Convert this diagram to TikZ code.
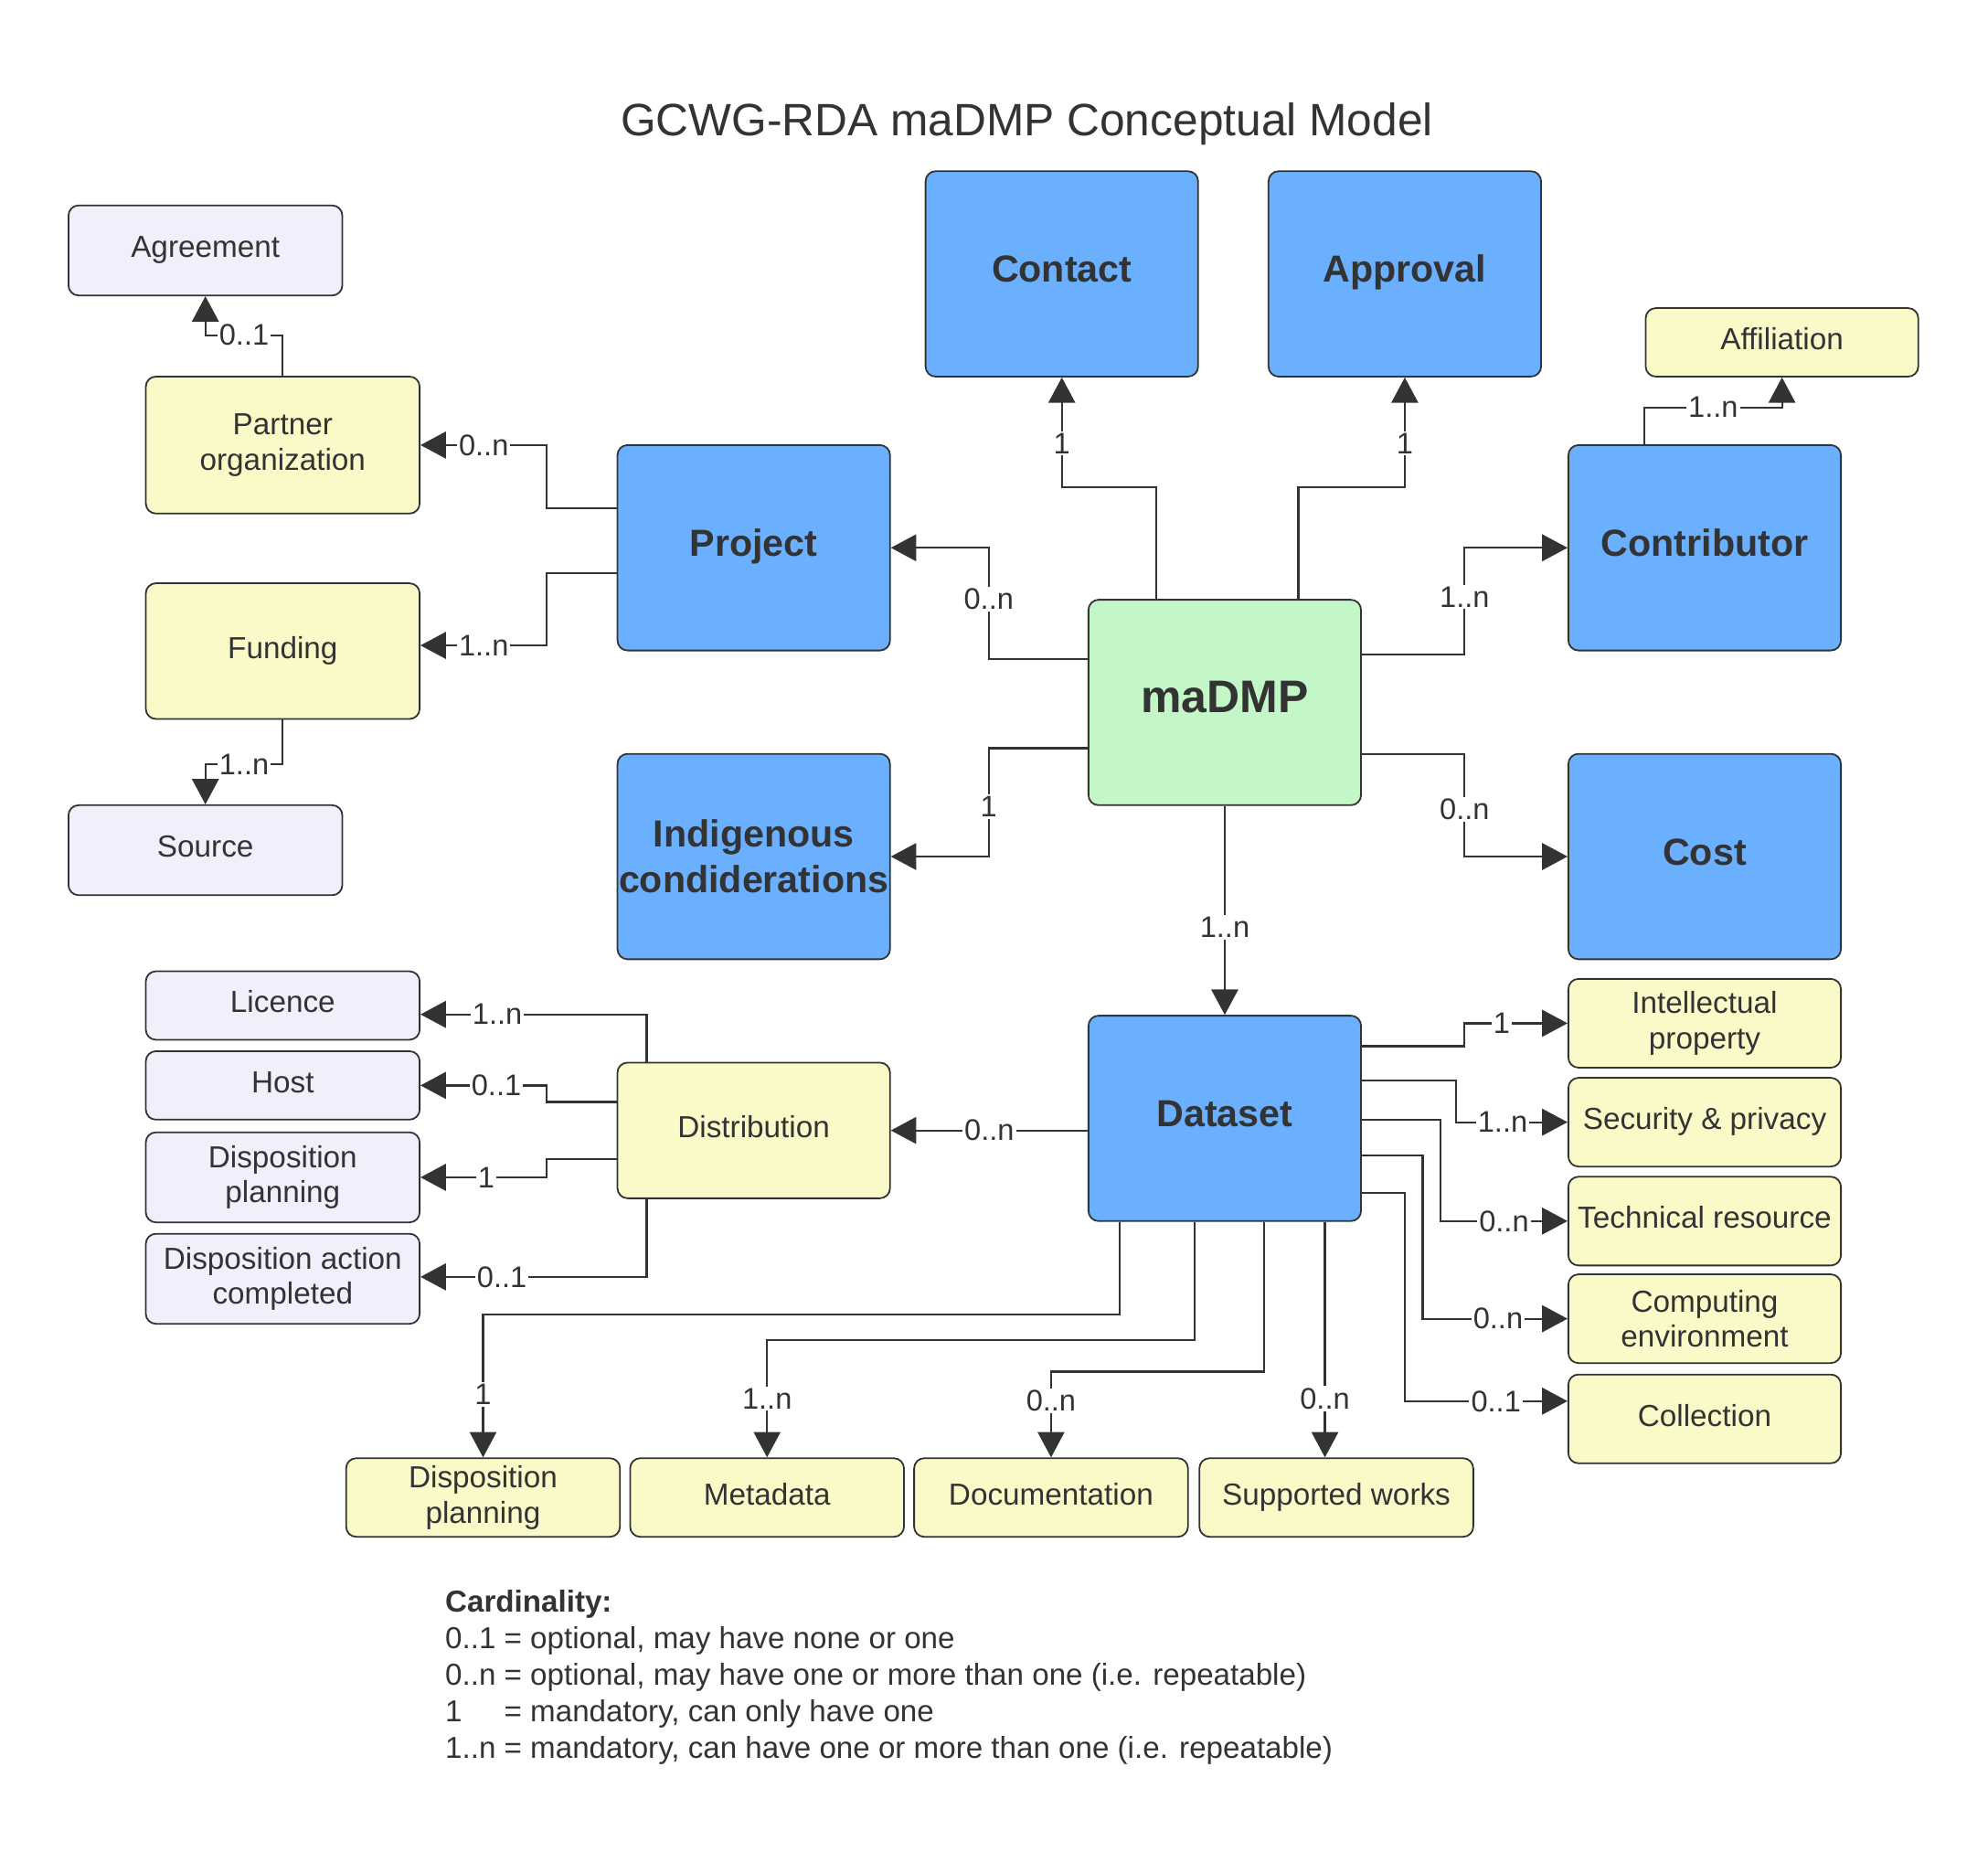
\documentclass[tikz,border=0pt]{standalone}
\usepackage{fontspec}
\setmainfont{Liberation Sans}
\usetikzlibrary{arrows.meta,calc}
\definecolor{ink}{HTML}{333333}
\definecolor{bluebox}{HTML}{6BAFFF}
\definecolor{yellowbox}{HTML}{FAFAC8}
\definecolor{lavbox}{HTML}{F0F0FC}
\definecolor{greenbox}{HTML}{C3F7C8}
\begin{document}
\begin{tikzpicture}[x=1pt,y=-1pt,
  box/.style={draw=ink, line width=1.3pt, rounded corners=8pt, text=ink, align=center, inner sep=0pt,
    minimum width=216pt, font=\fontsize{24}{28}\selectfont},
  oneline/.style={text height=17.3pt, text depth=6pt},
  bigbox/.style={box, fill=bluebox, minimum width=215pt, minimum height=162pt, font=\fontsize{29.7}{36}\selectfont\bfseries},
  bigone/.style={text height=21.4pt, text depth=8pt},
  ybox/.style={box, fill=yellowbox},
  lbox/.style={box, fill=lavbox},
  conn/.style={draw=ink, line width=1.6pt, -{Triangle[length=20pt,width=21pt]}},
  card/.style={fill=white, text=ink, inner sep=1.5pt, font=\fontsize{23.5}{25}\selectfont},
  legend/.style={anchor=base west, inner sep=0pt, text=ink, font=\fontsize{23.9}{29}\selectfont},
]
\useasboundingbox[fill=white] (0,0) rectangle (1568,1459.9);

% title
\node[anchor=base, inner sep=0pt, text=ink, font=\fontsize{35.8}{40}\selectfont] (title) at (810,107) {GCWG-RDA maDMP Conceptual Model};

% left column
\node[lbox, oneline, minimum height=71pt] (agreement) at (162,197.5) {Agreement};
\node[ybox, minimum height=108pt] (partner) at (223,351) {Partner\\organization};
\node[ybox, oneline, minimum height=107pt] (funding) at (223,513.5) {Funding};
\node[lbox, oneline, minimum height=71pt] (source) at (162,670.5) {Source};

% big boxes
\node[bigbox, bigone] (project) at (594.5,432) {Project};
\node[bigbox, bigone] (contact) at (837.5,216) {Contact};
\node[bigbox, bigone] (approval) at (1108,216) {Approval};
\node[bigbox, bigone] (contributor) at (1344.5,432) {Contributor};
\node[bigbox, fill=greenbox, font=\fontsize{36}{40}\selectfont\bfseries, text height=25.8pt, text depth=10pt] (madmp) at (966,554) {maDMP};
\node[bigbox] (indigenous) at (594.5,675.5) {Indigenous\\condiderations};
\node[bigbox, bigone] (cost) at (1344.5,675.5) {Cost};
\node[bigbox, bigone] (dataset) at (966,882) {Dataset};
\node[ybox, oneline, minimum width=215pt, minimum height=54pt] (affiliation) at (1405.5,270) {Affiliation};

% distribution group
\node[lbox, oneline, minimum height=54pt] (licence) at (223,793) {Licence};
\node[lbox, oneline, minimum height=54pt] (host) at (223,856) {Host};
\node[lbox, minimum height=71pt] (displan) at (223,928.5) {Disposition\\planning};
\node[lbox, minimum height=71pt] (dispact) at (223,1008.5) {Disposition action\\completed};
\node[ybox, oneline, minimum width=215pt, minimum height=107pt] (distribution) at (594.5,891.5) {Distribution};

% right column
\node[ybox, minimum width=215pt, minimum height=70pt] (intellectual) at (1344.5,807) {Intellectual\\property};
\node[ybox, oneline, minimum width=215pt, minimum height=70pt] (security) at (1344.5,885) {Security \& privacy};
\node[ybox, oneline, minimum width=215pt, minimum height=70pt] (technical) at (1344.5,963) {Technical resource};
\node[ybox, minimum width=215pt, minimum height=70pt] (computing) at (1344.5,1040) {Computing\\environment};
\node[ybox, oneline, minimum width=215pt, minimum height=70pt] (collection) at (1344.5,1119) {Collection};

% bottom row
\node[ybox, minimum height=62pt] (dispbottom) at (381,1181) {Disposition\\planning};
\node[ybox, oneline, minimum height=62pt] (metadata) at (605,1181) {Metadata};
\node[ybox, oneline, minimum height=62pt] (documentation) at (829,1181) {Documentation};
\node[ybox, oneline, minimum height=62pt] (supported) at (1054,1181) {Supported works};

% connectors: left
\draw[conn] (partner.north) -- ++(0,-32) -| (agreement.south) node[card, pos=0.25] {0..1};
\draw[conn] ($(project.west)+(0,-31)$) -- ++(-55,0) |- (partner.east) node[card, pos=0.75] {0..n};
\draw[conn] ($(project.west)+(0,20)$) -- ++(-55,0) |- ($(funding.east)+(0,-4.5)$) node[card, pos=0.75] {1..n};
\draw[conn] (funding.south) -- ++(0,35) -| (source.north) node[card, pos=0.25] {1..n};

% connectors: maDMP
\draw[conn] ($(madmp.west)+(0,-34)$) -- ++(-78,0) |- (project.east) node[card, pos=0.27] {0..n};
\draw[conn] ($(madmp.north)+(-54,0)$) -- ++(0,-88) -| (contact.south) node[card, pos=0.7] {1};
\draw[conn] ($(madmp.north)+(58,0)$) -- ++(0,-88) -| (approval.south) node[card, pos=0.7] {1};
\draw[conn] ($(madmp.east)+(0,-38)$) -- ++(81,0) |- (contributor.west) node[card, pos=0.27] {1..n};
\draw[conn] ($(contributor.north)+(-47.5,0)$) -- ++(0,-29) -| (affiliation.south) node[card, pos=0.25] {1..n};
\draw[conn] ($(madmp.west)+(0,36)$) -- ++(-78,0) |- (indigenous.east) node[card, pos=0.27] {1};
\draw[conn] ($(madmp.east)+(0,41)$) -- ++(81,0) |- (cost.west) node[card, pos=0.27] {0..n};
\draw[conn] (madmp.south) -- (dataset.north) node[card, pos=0.58] {1..n};

% connectors: dataset / distribution
\draw[conn] (distribution.east -| dataset.west) -- (distribution.east) node[card, midway] {0..n};
\draw[conn] ($(distribution.north)+(-84.5,0)$) |- ($(licence.east)+(0,7)$) node[card, pos=0.83] {1..n};
\draw[conn] ($(distribution.west)+(0,-22.5)$) -- ++(-55,0) |- (host.east) node[card, pos=0.7] {0..1};
\draw[conn] ($(distribution.west)+(0,22.5)$) -- ++(-55,0) |- (displan.east) node[card, pos=0.74] {1};
\draw[conn] ($(distribution.south)+(-84.5,0)$) |- ($(dispact.east)+(0,-1.5)$) node[card, pos=0.82] {0..1};

\draw[conn] ($(dataset.east)+(0,-57)$) -- ++(81,0) |- (intellectual.west) node[card, pos=0.68] {1};
\draw[conn] ($(dataset.east)+(0,-30)$) -- ++(74,0) |- (security.west) node[card, pos=0.71] {1..n};
\draw[conn] ($(dataset.east)+(0,1)$) -- ++(62,0) |- (technical.west) node[card, pos=0.75] {0..n};
\draw[conn] ($(dataset.east)+(0,29)$) -- ++(48,0) |- (computing.west) node[card, pos=0.76] {0..n};
\draw[conn] ($(dataset.east)+(0,59)$) -- ++(34,0) |- ($(collection.west)+(0,-14)$) node[card, pos=0.78] {0..1};

\draw[conn] ($(dataset.south)+(-83,0)$) -- ++(0,73) -| (dispbottom.north) node[card, pos=0.78] {1};
\draw[conn] ($(dataset.south)+(-24,0)$) -- ++(0,93) -| (metadata.north) node[card, pos=0.75] {1..n};
\draw[conn] ($(dataset.south)+(31,0)$) -- ++(0,118) -| (documentation.north) node[card, pos=0.67] {0..n};
\draw[conn] ($(dataset.south)+(79,0)$) -- ($(supported.north)+(-9,0)$) node[card, pos=0.75] {0..n};

% legend
\node[legend, font=\fontsize{23.9}{29}\selectfont\bfseries] (leg0) at (351,1271) {Cardinality:};
\node[legend] (leg1) at (351,1300) {0..1 = optional, may have none or one};
\node[legend] (leg2) at (351,1329) {0..n = optional, may have one or more than one (i.e. repeatable)};
\node[legend] (leg3) at (351,1358) {1\hphantom{..n} = mandatory, can only have one};
\node[legend] (leg4) at (351,1387) {1..n = mandatory, can have one or more than one (i.e. repeatable)};
\end{tikzpicture}
\end{document}
